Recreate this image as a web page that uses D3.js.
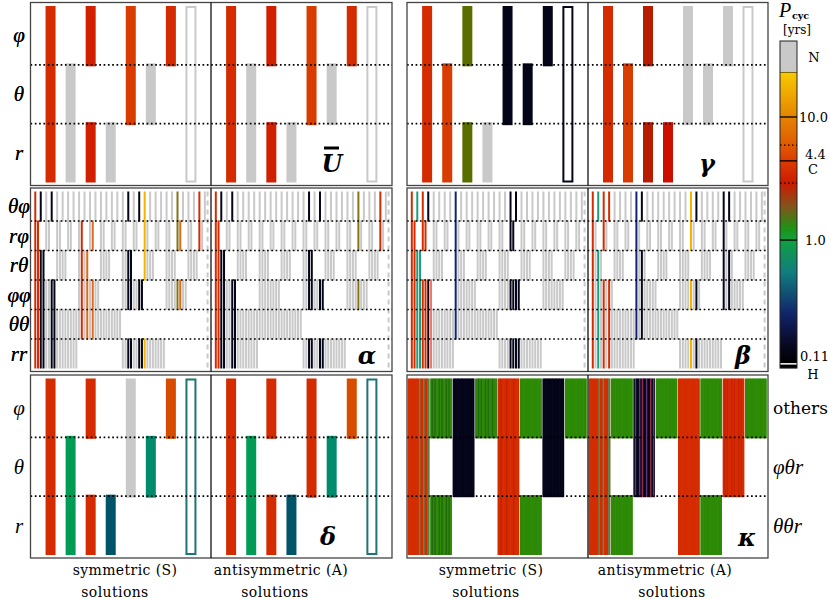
<!DOCTYPE html>
<meta charset="utf-8">
<script src="https://d3js.org/d3.v7.min.js"></script>
<style>
  body { margin: 0; background: #fff; }
  text { font-family: "DejaVu Serif", serif; fill: #000; }
  .rowlab { font-family: "Liberation Serif", serif; font-style: italic; font-size: 21px; }
  .sym { font-family: "DejaVu Serif", serif; font-style: italic; font-weight: bold; font-size: 24px; }
</style>
<body>
<div id="chart"></div>
<script>
// ---------------- data ----------------
var rows3 = ["φ", "θ", "r"];
var rows6 = ["θφ", "rφ", "rθ", "φφ", "θθ", "rr"];
var rowsK = ["others", "φθr", "θθr"];

// rows covered by each of the 8 bars of the 3-row panels (last one = empty box)
var bars3 = [[0, 1, 2], [1, 2], [0, 2], [2], [0, 1], [1], [0], [0, 1, 2]];
// bit of the 64-bar index that removes each row (θφ, rφ, rθ, φφ, θθ, rr)
var bitOrder = [0, 1, 2, 3, 5, 4];
// rows covered by each of the 8 blocks of the kappa panel
var blocksK = [[0, 1, 2], [0, 2], [0, 1], [0], [0, 1, 2], [0, 2], [0, 1], [0]];

// period class of each bar (codes -> colours below)
var uS = ["R", "N", "Rd", "N", "O", "N", "R", "N"];
var uA = ["R", "N", "Rd", "N", "O", "N", "R", "N"];
var gS = ["R", "O", "V", "N", "K", "K", "K", "K"];
var gA = ["R", "O", "Rk", "Rb", "N", "N", "N", "N"];
var dS = ["R", "G", "R", "D", "N", "Gt", "Ob", "Tb"];
var dA = ["R", "G", "R", "D", "R", "Gt", "Ob", "Tb"];

// coloured bars among the 64 (index, class); all others are N
var alphaS = [[0, "R"], [1, "R"], [2, "K"], [3, "K"], [6, "K"], [7, "K"], [17, "R"], [19, "Oa"], [21, "Oa"],
              [34, "K"], [35, "K"], [38, "K"], [39, "K"], [40, "Y"], [52, "Vk"], [53, "Oa"], [60, "R"]];
var alphaA = [[0, "R"], [1, "R"], [2, "K"], [3, "K"], [6, "K"], [7, "K"], [34, "K"], [35, "K"],
              [38, "K"], [39, "K"], [52, "Vk"], [60, "R"]];
var betaS = [[0, "R"], [1, "R"], [2, "T"], [3, "T"], [4, "R"], [5, "R"], [6, "K"], [7, "S"], [16, "B"],
             [36, "K"], [37, "K"], [38, "K"], [39, "K"]];
var betaA = [[0, "R"], [2, "T"], [4, "R"], [6, "R"], [16, "B"], [18, "K"], [36, "Y"], [38, "K"],
             [48, "K"], [50, "K"]];

// kappa: 16 thin solutions per block
var kappaS = ["RRRRRRRRtRRtRRtR", "GdGdGGdGdGGdGdGG", "KKKKKKKKKKKKKKKK", "GGdGdGGdGdGGdGGd",
              "RRrRRRrRRRRrRRRR", "GGGGGGGGGGGGGGGG", "KKKKKKKKKKKKKKKK", "GGGGGGGGGGGGGGGG"];
var kappaA = ["RRRRRRRtRRtRRRtR", "GGGGGGGGGGGGGGGG", "KpKKpKmKKpKKmKpK", "GGGGGGGGGGGGGGGG",
              "RRRRRRRRRRRRRRRR", "GGGGGGGGGGGGGGGG", "RrRrRRrRrRRrRrRR", "GGGGGGGGGGGGGGGG"];

// colour bar
var cbTicks = [10.0, 4.4, 1.0, 0.11];
var cbDotted = [5.9, 2.9];
var cbStops = [[23, "#f8ca00"], [10, "#e58400"], [5.9, "#e05a00"], [4.4, "#dc3c00"], [2.9, "#cc1a00"],
               [1.9, "#86521a"], [1.25, "#1f9214"], [1.0, "#10a040"], [0.55, "#107e7e"],
               [0.25, "#10246a"], [0.14, "#080820"], [0.1, "#000000"]];

// ---------------- style ----------------
var colorOf = {
  N: "#c9c9c9", R: "#d42c00", Rd: "#d02000", Rk: "#b81c00", Rb: "#cc1000", O: "#d83c00",
  Oa: "#e06a1a", Ob: "#d84c00", Y: "#f0b400", V: "#5a6e00", Vk: "#847414", K: "#05051a",
  B: "#0c2670", T: "#1aa080", G: "#009b55", Gt: "#008c6c", D: "#005468", Tb: "#1e7474", S: "#f07868"
};
var kColor = { R: "#d42c00", r: "#c82000", t: "#3a9a60", G: "#2d8a06", d: "#246a10",
               K: "#05051a", p: "#5a3a7a", m: "#9a2848" };

var W = 830, H = 599;
var svg = d3.select("#chart").append("svg").attr("width", W).attr("height", H);

var cols = [{x0: 30.5, x1: 392}, {x0: 407, x1: 768}];
var rowsY = [{y0: 2.5, y1: 185.5}, {y0: 188, y1: 371.5}, {y0: 375, y1: 558}];

var panels = [
  {col: 0, row: 0, type: "b3", rows: rows3, S: uS, A: uA, sym: "U", dx: -60, dy: -22, bar: true},
  {col: 1, row: 0, type: "b3", rows: rows3, S: gS, A: gA, sym: "γ", dx: -61, dy: -22},
  {col: 0, row: 1, type: "b64", rows: rows6, S: alphaS, A: alphaA, sym: "α", dx: -25, dy: -16},
  {col: 1, row: 1, type: "b64", rows: rows6, S: betaS, A: betaA, sym: "β", dx: -25, dy: -16},
  {col: 0, row: 2, type: "b3", rows: rows3, S: dS, A: dA, sym: "δ", dx: -64, dy: -22},
  {col: 1, row: 2, type: "k", rows: rowsK, S: kappaS, A: kappaA, sym: "κ", dx: -21, dy: -21, right: true}
];

function runs(list) {
  var out = [];
  list.forEach(function(i) {
    var last = out[out.length - 1];
    if (last && last[1] === i - 1) last[1] = i; else out.push([i, i]);
  });
  return out;
}

function drawPanel(p) {
  var c = cols[p.col], r = rowsY[p.row];
  var xm = 211 + (p.col ? 377 : 0);
  var n = p.rows.length;
  var y = d3.scaleLinear().domain([0, n]).range([r.y0 + 3.5, r.y1 - 3]);
  var g = svg.append("g");

  function span(run, ext) {
    var top = run[0] > 0 ? y(run[0]) - ext : y(0);
    var bot = run[1] < n - 1 ? y(run[1] + 1) + ext : y(n);
    return [top, bot];
  }

  [[p.S, c.x0, xm], [p.A, xm, c.x1]].forEach(function(h) {
    var data = h[0];
    if (p.type === "b3") {
      var x = d3.scaleLinear().domain([0, 9]).range([h[1], h[2]]);
      bars3.forEach(function(rs, k) {
        var col = colorOf[data[k]];
        if (k === 7) {
          g.append("rect").attr("x", x(k + 1) - 4.5).attr("y", y(0) + 1)
            .attr("width", 9).attr("height", y(n) - y(0) - 2)
            .attr("fill", "none").attr("stroke", col).attr("stroke-width", 2);
          return;
        }
        runs(rs).forEach(function(run) {
          var s = span(run, 1.5);
          g.append("rect").attr("x", x(k + 1) - 5).attr("y", s[0])
            .attr("width", 10).attr("height", s[1] - s[0]).attr("fill", col);
        });
      });
    } else if (p.type === "b64") {
      var x = d3.scaleLinear().domain([-1.75, 64.25]).range([h[1], h[2]]);
      var special = new Map(data);
      var idx = d3.range(63);
      var order = idx.filter(function(j) { return !special.has(j); })
                     .concat(idx.filter(function(j) { return special.has(j); }));
      order.forEach(function(j) {
        var rs = d3.range(n).filter(function(i) { return ((j >> bitOrder[i]) & 1) === 0; });
        var col = colorOf[special.get(j) || "N"];
        runs(rs).forEach(function(run) {
          var s = span(run, 0.6);
          g.append("rect").attr("x", x(j) - 1).attr("y", s[0])
            .attr("width", 2).attr("height", s[1] - s[0]).attr("fill", col);
        });
      });
      g.append("line").attr("x1", x(63)).attr("x2", x(63))
        .attr("y1", y(0)).attr("y2", y(n))
        .attr("stroke", colorOf.N).attr("stroke-width", 2).attr("stroke-dasharray", "5,4");
    } else {
      var x = d3.scaleLinear().domain([0, 128]).range([h[1] + 0.7, h[2] - 0.7]);
      var sw = x(1) - x(0);
      data.forEach(function(block, b) {
        runs(blocksK[b]).forEach(function(run) {
          var s = span(run, 1);
          block.split("").forEach(function(code, q) {
            var i = b * 16 + q;
            g.append("rect").attr("x", x(i)).attr("y", s[0])
              .attr("width", q === 15 ? sw - 0.8 : sw + 0.7).attr("height", s[1] - s[0])
              .attr("fill", kColor[code]);
          });
        });
      });
    }
  });

  // dotted row separators
  d3.range(1, n).forEach(function(i) {
    g.append("line").attr("x1", c.x0).attr("x2", c.x1).attr("y1", y(i)).attr("y2", y(i))
      .attr("stroke", "#000").attr("stroke-width", 1.7).attr("stroke-dasharray", "1.7,2.6");
  });

  // frame and divider
  g.append("rect").attr("x", c.x0).attr("y", r.y0).attr("width", c.x1 - c.x0).attr("height", r.y1 - r.y0)
    .attr("fill", "none").attr("stroke", "#444").attr("stroke-width", 1.3);
  g.append("line").attr("x1", xm).attr("x2", xm).attr("y1", r.y0).attr("y2", r.y1)
    .attr("stroke", "#111").attr("stroke-width", 1.3);

  // row labels
  p.rows.forEach(function(lab, i) {
    var t = g.append("text").attr("y", y(i + 0.5)).attr("dominant-baseline", "central").text(lab);
    if (p.right) {
      t.attr("x", 773);
      if (i === 0) t.style("font-size", "17px"); else t.attr("class", "rowlab");
    } else {
      t.attr("class", "rowlab").attr("x", 19).attr("text-anchor", "middle");
    }
  });

  // panel symbol
  var sx = c.x1 + p.dx, sy = r.y1 + p.dy;
  g.append("text").attr("class", "sym").attr("x", sx).attr("y", sy).attr("text-anchor", "middle")
    .attr("dominant-baseline", "central").text(p.sym);
  if (p.bar) {
    g.append("rect").attr("x", sx - 8).attr("y", sy - 17).attr("width", 15).attr("height", 3).attr("fill", "#000");
  }
}

panels.forEach(drawPanel);

// bottom labels
var bottomLabels = [["symmetric (S)", 125, 575], ["antisymmetric (A)", 281, 575], ["solutions", 115, 597], ["solutions", 275, 597],
                    ["symmetric (S)", 491, 575], ["antisymmetric (A)", 665, 575], ["solutions", 486, 597], ["solutions", 672, 597]];
svg.selectAll(".blab").data(bottomLabels).enter().append("text")
  .attr("x", function(d) { return d[1]; }).attr("y", function(d) { return d[2]; })
  .attr("text-anchor", "middle").style("font-size", "14px").style("letter-spacing", "0.4px")
  .text(function(d) { return d[0]; });

// ---------------- colour bar ----------------
var cbx = 780, cbw = 17;
var cy = d3.scaleLog().domain([0.11, 10]).range([358, 117]);
var defs = svg.append("defs");
var grad = defs.append("linearGradient").attr("id", "cbg").attr("gradientUnits", "userSpaceOnUse")
  .attr("x1", 0).attr("x2", 0).attr("y1", cy(23)).attr("y2", cy(0.1));
var gy0 = cy(23), gy1 = cy(0.1);
cbStops.forEach(function(s) {
  grad.append("stop").attr("offset", (cy(s[0]) - gy0) / (gy1 - gy0)).attr("stop-color", s[1]);
});
var cb = svg.append("g");
cb.append("rect").attr("x", cbx).attr("y", 41).attr("width", cbw).attr("height", gy0 - 41).attr("fill", colorOf.N);
cb.append("line").attr("x1", cbx).attr("x2", cbx + cbw).attr("y1", gy0).attr("y2", gy0).attr("stroke", "#000").attr("stroke-width", 1);
cb.append("rect").attr("x", cbx).attr("y", gy0).attr("width", cbw).attr("height", gy1 - gy0).attr("fill", "url(#cbg)");
cb.append("rect").attr("x", cbx).attr("y", gy1 + 1.5).attr("width", cbw).attr("height", 3.5).attr("fill", "#000");
cb.append("rect").attr("x", cbx).attr("y", 41).attr("width", cbw).attr("height", gy1 + 5 - 41)
  .attr("fill", "none").attr("stroke", "#222").attr("stroke-width", 1);
cbTicks.slice(0, 3).forEach(function(v) {
  cb.append("line").attr("x1", cbx).attr("x2", cbx + cbw).attr("y1", cy(v)).attr("y2", cy(v))
    .attr("stroke", "#000").attr("stroke-width", 1.3);
});
cbDotted.forEach(function(v) {
  cb.append("line").attr("x1", cbx).attr("x2", cbx + cbw).attr("y1", cy(v)).attr("y2", cy(v))
    .attr("stroke", "#000").attr("stroke-width", 1.3).attr("stroke-dasharray", "1.5,2.5");
});
var cbText = [["N", 814, 57, "middle"], ["10.0", 799, cy(10), "start"], ["4.4", 805, cy(4.4) - 6, "start"],
              ["C", 813, cy(4.4) + 9, "middle"], ["1.0", 805, cy(1.0), "start"], ["0.11", 800, cy(0.11) - 2, "start"],
              ["H", 813, 374, "middle"]];
cb.selectAll(".cbt").data(cbText).enter().append("text")
  .attr("x", function(d) { return d[1]; }).attr("y", function(d) { return d[2]; })
  .attr("text-anchor", function(d) { return d[3]; }).attr("dominant-baseline", "central")
  .style("font-size", "13px").text(function(d) { return d[0]; });
cb.append("text").attr("x", 779).attr("y", 17).style("font-family", "Liberation Serif").style("font-style", "italic")
  .style("font-size", "20px").text("P");
cb.append("text").attr("x", 792).attr("y", 19).style("font-size", "9.5px").style("font-weight", "bold").text("cyc");
cb.append("text").attr("x", 783).attr("y", 34).style("font-size", "12px").text("[yrs]");
</script>
</body>
